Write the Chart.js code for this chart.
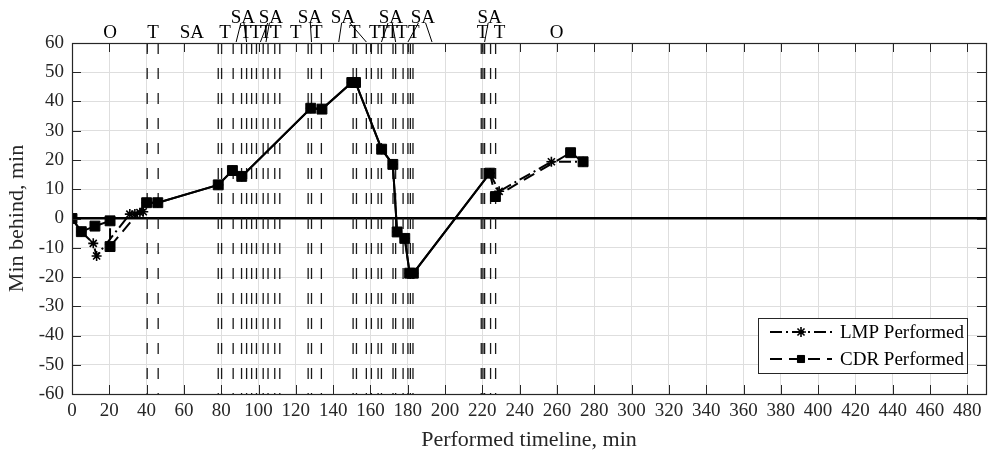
<!DOCTYPE html>
<html>
<head>
<meta charset="utf-8">
<script src="https://cdn.jsdelivr.net/npm/chart.js@4.4.1/dist/chart.umd.min.js"></script>
<style>
html,body{margin:0;padding:0;background:#fff;}
#wrap{position:relative;width:994px;height:457px;}
</style>
</head>
<body>
<div id="wrap"><canvas id="chart" width="994" height="457"></canvas></div>
<script>
const FONT = '"Liberation Serif", "Times New Roman", serif';

// axes
const xMin = 0, xMax = 490, yMin = -60, yMax = 60;
const xTickValues = [0,20,40,60,80,100,120,140,160,180,200,220,240,260,280,300,320,340,360,380,400,420,440,460,480];
const yTickValues = [-60,-50,-40,-30,-20,-10,0,10,20,30,40,50,60];
const xTitle = 'Performed timeline, min';
const yTitle = 'Min behind, min';
const seriesNames = ['LMP Performed', 'CDR Performed'];

// LMP Performed (asterisks, dash-dot)
const lmpX = [0, 5, 11.4, 13.2, 31, 33.7, 36.4, 38.2, 40, 46, 78.4, 86, 91, 128, 134, 150, 152, 166, 172, 174.3, 178.4, 181, 183, 224, 229, 257, 274];
const lmpY = [0, -4.5, -8.5, -12.8, 1.5, 1.5, 2, 2.3, 5.4, 5.4, 11.5, 16.4, 14.4, 37.7, 37.4, 46.5, 46.5, 23.7, 18.5, -4.6, -6.8, -18.7, -18.7, 15.5, 9.3, 19.4, 19.4];

// CDR Performed (squares, dashed)
const cdrX = [0, 5, 12.3, 20.4, 20.4, 40, 46, 78.4, 86, 91, 128, 134, 150, 152, 166, 172, 174.3, 178.4, 181, 183, 224, 227, 267.3, 274];
const cdrY = [0, -4.5, -2.6, -0.8, -9.6, 5.4, 5.4, 11.5, 16.4, 14.4, 37.7, 37.4, 46.5, 46.5, 23.7, 18.5, -4.6, -6.8, -18.7, -18.7, 15.5, 7.5, 22.5, 19.4];

// event marker lines (vertical dashed)
const eventLinesX = [40.3, 46.2, 78.4, 80.2, 86.4, 90.9, 93.6, 96.3, 98.9, 102.5, 105.1, 108.7, 111.4, 126.6, 128.4, 133.7, 150.7, 152.5, 157.8, 160.5, 164.1, 165.9, 172.1, 173.5, 177.5, 180.1, 181.4, 182.8, 219.4, 220.3, 221.2, 224.4, 227.1];

// top annotations, lower row
const topLabelText = ['O','T','SA','T','T','T','T','T','T','T','T','T','T','T','T','T','T','T','O'];
const topLabelX = [20.4, 43.4, 64.3, 82.0, 93.2, 98.6, 103.9, 109.3, 120, 131.2, 151.6, 162.3, 167.1, 171.9, 176.8, 183.2, 220.1, 229.2, 259.8];
// top annotations, upper row (SA with leaders)
const saLabelText = ['SA','SA','SA','SA','SA','SA','SA'];
const saLabelX = [91.6, 106.6, 127.5, 145.2, 170.9, 188.1, 223.9];
const saLeaderTargets = [[88, 93.6], [101, 104], [128.4], [143, 157.8], [165.9, 173.5], [180.1, 193], [221.2]];

const toPts = (xs, ys) => xs.map((x, i) => ({x: x, y: ys[i]}));
const eventData = [];
eventLinesX.forEach(x => { eventData.push({x: x, y: yMax}, {x: x, y: yMin}, {x: x, y: null}); });

// segments common to both series are drawn where the two dashed lines overlap (appear solid)
const segKeys = (xs, ys) => {
  const s = new Set();
  for (let i = 0; i < xs.length - 1; i++) s.add([xs[i], ys[i], xs[i + 1], ys[i + 1]].join(','));
  return s;
};
const lmpSegs = segKeys(lmpX, lmpY), cdrSegs = segKeys(cdrX, cdrY);
const sharedDash = (xs, ys, other) => c => {
  const i = c.p0DataIndex, j = c.p1DataIndex;
  return other.has([xs[i], ys[i], xs[j], ys[j]].join(',')) ? [] : undefined;
};

const decor = {
  id: 'decor',
  afterDatasetsDraw(chart) {
    const ctx = chart.ctx, a = chart.chartArea;
    const xs = chart.scales.x, ys = chart.scales.y;
    ctx.save();
    // inward ticks
    ctx.strokeStyle = '#262626';
    ctx.lineWidth = 1;
    ctx.setLineDash([]);
    const tl = 9;
    ctx.beginPath();
    xTickValues.forEach(v => {
      const px = Math.round(xs.getPixelForValue(v)) + 0.5;
      ctx.moveTo(px, a.bottom); ctx.lineTo(px, a.bottom - tl);
      ctx.moveTo(px, a.top); ctx.lineTo(px, a.top + tl);
    });
    yTickValues.forEach(v => {
      const py = Math.round(ys.getPixelForValue(v)) + 0.5;
      ctx.moveTo(a.left, py); ctx.lineTo(a.left + tl, py);
      ctx.moveTo(a.right, py); ctx.lineTo(a.right - tl, py);
    });
    ctx.stroke();
    // frame
    ctx.strokeStyle = '#262626';
    ctx.lineWidth = 1.2;
    ctx.strokeRect(Math.round(a.left) + 0.5, Math.round(a.top) + 0.5, Math.round(a.right - a.left), Math.round(a.bottom - a.top));

    // legend
    const lx = 758, ly = 318, lw = 209, lh = 55;
    ctx.fillStyle = '#fff';
    ctx.fillRect(lx, ly, lw, lh);
    ctx.strokeStyle = '#262626';
    ctx.lineWidth = 1;
    ctx.strokeRect(lx + 0.5, ly + 0.5, lw, lh);
    const entries = [chart.data.datasets[1], chart.data.datasets[0]];
    entries.forEach((ds, i) => {
      const cy = ly + 14 + i * 27;
      ctx.strokeStyle = '#000';
      ctx.lineWidth = ds.borderWidth;
      ctx.setLineDash(ds.borderDash);
      ctx.beginPath();
      ctx.moveTo(770, cy); ctx.lineTo(832, cy);
      ctx.stroke();
      ctx.setLineDash([]);
      ctx.fillStyle = '#000';
      ctx.lineWidth = ds.pointBorderWidth;
      Chart.helpers.drawPoint(ctx, {pointStyle: ds.pointStyle, rotation: 0, radius: ds.pointStyle === 'rect' ? 5 : ds.pointRadius, borderWidth: ds.pointBorderWidth}, 801, cy);
      if (ds.pointStyle === 'rect') { ctx.fill(); }
      ctx.fillStyle = '#000';
      ctx.font = '19px ' + FONT;
      ctx.textBaseline = 'middle';
      ctx.textAlign = 'left';
      ctx.fillText(ds.label, 840, cy + 1);
    });
    ctx.restore();
  },
  afterDraw(chart) {
    const ctx = chart.ctx, a = chart.chartArea;
    const xs = chart.scales.x;
    ctx.save();
    ctx.fillStyle = '#000';
    ctx.font = '19px ' + FONT;
    ctx.textAlign = 'center';
    ctx.textBaseline = 'alphabetic';
    topLabelText.forEach((t, i) => {
      ctx.fillText(t, xs.getPixelForValue(topLabelX[i]), a.top - 5);
    });
    saLabelText.forEach((t, i) => {
      ctx.fillText(t, xs.getPixelForValue(saLabelX[i]), a.top - 20);
    });
    ctx.strokeStyle = '#000';
    ctx.lineWidth = 1;
    ctx.beginPath();
    saLeaderTargets.forEach((targets, i) => {
      const sx = xs.getPixelForValue(saLabelX[i]);
      targets.forEach(tx => {
        const px = xs.getPixelForValue(tx);
        ctx.moveTo(sx + (px - sx) * 0.3, a.top - 20);
        ctx.lineTo(px, a.top - 1);
      });
    });
    ctx.stroke();
    ctx.restore();
  }
};

new Chart(document.getElementById('chart').getContext('2d'), {
  type: 'line',
  data: {
    datasets: [
      {
        label: seriesNames[1], data: toPts(cdrX, cdrY),
        borderColor: '#000', backgroundColor: '#000', borderWidth: 2,
        borderDash: [12, 7], pointStyle: 'rect', pointRadius: 7,
        pointBorderWidth: 1, pointBackgroundColor: '#000', pointBorderColor: '#000',
        segment: { borderDash: sharedDash(cdrX, cdrY, lmpSegs) },
        order: 1
      },
      {
        label: seriesNames[0], data: toPts(lmpX, lmpY),
        borderColor: '#000', backgroundColor: '#000', borderWidth: 2,
        borderDash: [12, 4, 2, 4], pointStyle: 'star', pointRadius: 5,
        pointBorderWidth: 1.6, pointBorderColor: '#000', pointBackgroundColor: '#000',
        segment: { borderDash: sharedDash(lmpX, lmpY, cdrSegs) },
        order: 2
      },
      {
        label: 'events', data: eventData,
        borderColor: '#1a1a1a', borderWidth: 1.3, borderDash: [11, 14],
        pointRadius: 0, spanGaps: false, order: 3
      }
    ]
  },
  options: {
    responsive: false,
    animation: false,
    events: [],
    plugins: { legend: { display: false }, tooltip: { enabled: false } },
    layout: { padding: { top: 43, right: 6, left: 0, bottom: 0 } },
    scales: {
      x: {
        type: 'linear', min: xMin, max: xMax,
        afterBuildTicks: s => { s.ticks = xTickValues.map(v => ({value: v})); },
        afterFit: s => { s.height = 63; },
        grid: {
          color: '#dedede', lineWidth: 1, drawTicks: false
        },
        border: { display: false },
        ticks: { font: { family: FONT, size: 19 }, color: '#262626', padding: 6, maxRotation: 0, autoSkip: false },
        title: { display: true, text: xTitle, font: { family: FONT, size: 22 }, color: '#262626', padding: { top: 0, bottom: 4 } }
      },
      y: {
        type: 'linear', min: yMin, max: yMax,
        afterBuildTicks: s => { s.ticks = yTickValues.map(v => ({value: v})); },
        afterFit: s => { s.width = 72; },
        grid: {
          color: c => (c.tick && c.tick.value === 0) ? '#000' : '#dedede',
          lineWidth: c => (c.tick && c.tick.value === 0) ? 2.5 : 1,
          drawTicks: false
        },
        border: { display: false },
        ticks: { font: { family: FONT, size: 19 }, color: '#262626', padding: 8 },
        title: { display: true, text: yTitle, font: { family: FONT, size: 22 }, color: '#262626', padding: { top: 4, bottom: 0 } }
      }
    }
  },
  plugins: [decor]
});
</script>
</body>
</html>
